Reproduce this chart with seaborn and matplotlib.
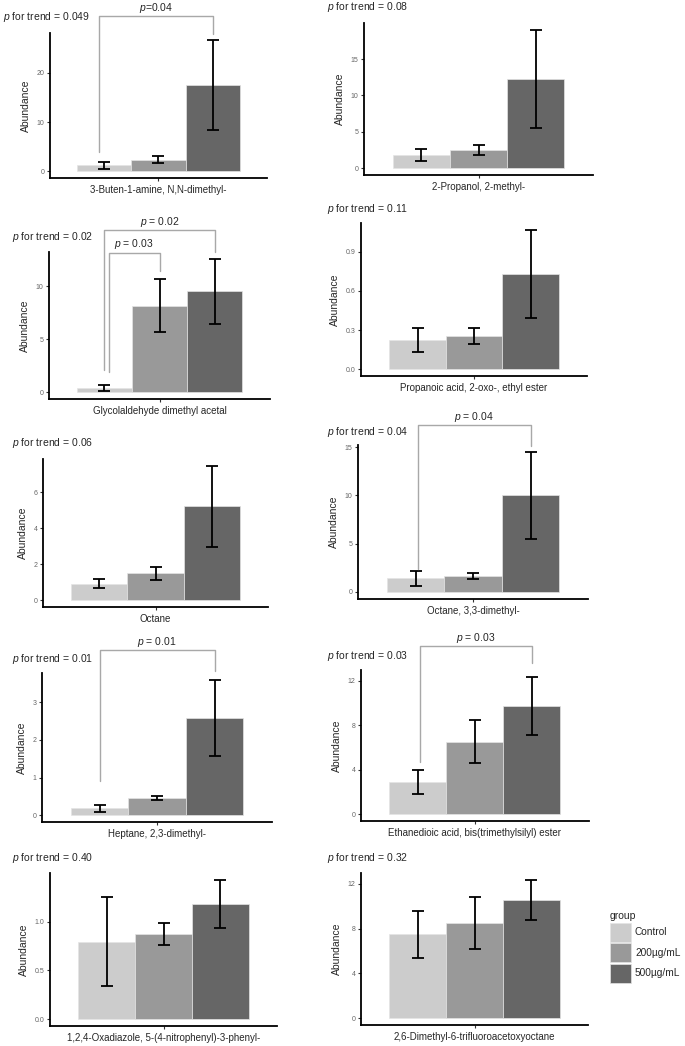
import numpy as np
import pandas as pd
import matplotlib
matplotlib.use("Agg")
import matplotlib.pyplot as plt
import seaborn as sns

# ---------------- data ----------------
groups = ["Control", "200µg/mL", "500µg/mL"]
compounds = [
    "3-Buten-1-amine, N,N-dimethyl-",
    "2-Propanol, 2-methyl-",
    "Glycolaldehyde dimethyl acetal",
    "Propanoic acid, 2-oxo-, ethyl ester",
    "Octane",
    "Octane, 3,3-dimethyl-",
    "Heptane, 2,3-dimethyl-",
    "Ethanedioic acid, bis(trimethylsilyl) ester",
    "1,2,4-Oxadiazole, 5-(4-nitrophenyl)-3-phenyl-",
    "2,6-Dimethyl-6-trifluoroacetoxyoctane",
]
ctrl_mean = [1.2, 1.84, 0.38, 0.225, 0.92, 1.40, 0.186, 2.88, 0.795, 7.49]
ctrl_se = [0.68, 0.85, 0.27, 0.093, 0.26, 0.785, 0.097, 1.05, 0.459, 2.09]
mid_mean = [2.4, 2.49, 8.19, 0.251, 1.5, 1.67, 0.46, 6.51, 0.87, 8.51]
mid_se = [0.72, 0.645, 2.53, 0.062, 0.355, 0.31, 0.055, 1.935, 0.115, 2.3]
high_mean = [17.6, 12.3, 9.53, 0.729, 5.23, 10.0, 2.58, 9.75, 1.178, 10.54]
high_se = [9.15, 6.73, 3.08, 0.34, 2.25, 4.5, 1.015, 2.6, 0.248, 1.8]
trend_p = ["0.049", "0.08", "0.02", "0.11", "0.06", "0.04", "0.01", "0.03", "0.40", "0.32"]
tick_step = [10, 5, 5, 0.3, 2, 5, 1, 4, 0.5, 4]
# pairwise comparisons: (group i, group j, label, bracket top, left leg end, right leg end, left leg shift)
brackets = {
    0: [(0, 2, "$p$=0.04", 31.6, 3.9, 27.9, -0.028)],
    2: [(0, 1, "$p$ = 0.03", 13.19, 1.94, 11.47, 0.024),
        (0, 2, "$p$ = 0.02", 15.3, 2.1, 13.2, 0.0)],
    5: [(0, 2, "$p$ = 0.04", 17.27, 2.34, 15.07, 0.013)],
    6: [(0, 2, "$p$ = 0.01", 4.39, 0.91, 3.83, 0.0)],
    7: [(0, 2, "$p$ = 0.03", 15.15, 4.71, 13.62, 0.01)],
}

# ---------------- layout / style ----------------
W, H = 685, 1046
panel_px = [  # left, right, top, bottom (pixels)
    (50, 267, 33, 178), (364, 593, 23, 175),
    (49, 270, 252, 399), (361, 587, 223, 376),
    (43, 268, 459, 607), (358, 588, 445, 599),
    (42, 272, 673, 822), (361, 589, 670, 821),
    (50, 277, 873, 1026), (361, 588, 873, 1025),
]
trend_px = [(3, 17), (327, 7), (12, 237), (327, 209), (12, 443),
            (327, 432), (12, 659), (327, 656), (12, 858), (327, 858)]
palette = {"Control": "#cccccc", "200µg/mL": "#999999", "500µg/mL": "#666666"}

sns.set_style("white")
plt.rcParams["font.family"] = ["Liberation Sans", "DejaVu Sans"]
plt.rcParams["mathtext.fontset"] = "custom"
plt.rcParams["mathtext.rm"] = "Liberation Sans"
plt.rcParams["mathtext.it"] = "Liberation Sans:italic"

fig = plt.figure(figsize=(W / 100, H / 100), dpi=100)

last_ax = None
for k, name in enumerate(compounds):
    l, r, t, b = panel_px[k]
    ax = fig.add_axes([l / W, 1 - b / H, (r - l) / W, (b - t) / H])
    means = [ctrl_mean[k], mid_mean[k], high_mean[k]]
    ses = [ctrl_se[k], mid_se[k], high_se[k]]
    df = pd.DataFrame({"compound": [name] * 3, "group": groups, "abundance": means})
    sns.barplot(data=df, x="compound", y="abundance", hue="group", hue_order=groups,
                palette=palette, width=0.9, errorbar=None, edgecolor="#e4e4e4",
                linewidth=0.5, ax=ax, legend=(k == 9))
    ax.set_xlim(-0.6, 0.6)
    centers = [c[0].get_x() + c[0].get_width() / 2 for c in ax.containers]
    ax.errorbar(centers, means, yerr=ses, fmt="none", ecolor="black",
                elinewidth=1.3, capsize=4.5, capthick=1.3, zorder=5)
    ymax = max(m + s for m, s in zip(means, ses))
    ax.set_ylim(-0.05 * ymax, 1.05 * ymax)
    step = tick_step[k]
    ticks = np.arange(0, ymax * 1.05 + 1e-9, step)
    ax.set_yticks(ticks)
    ax.set_yticklabels([f"{v:.1f}" if step < 1 else f"{v:g}" for v in ticks])
    ax.tick_params(axis="y", labelsize=5, labelcolor="#666666", length=2.5,
                   width=0.8, color="#333333", pad=1.5, left=True)
    ax.tick_params(axis="x", labelsize=7, length=2.5, width=0.8,
                   color="#333333", pad=2.5, bottom=True)
    ax.set_xlabel("")
    ax.set_ylabel("Abundance", fontsize=7.5, labelpad=4)
    sns.despine(ax=ax)
    for sp in ("left", "bottom"):
        ax.spines[sp].set_linewidth(1.3)
        ax.spines[sp].set_color("black")

    for (i, j, lab, ytop, yl, yr, dx) in brackets.get(k, []):
        xl = centers[i] + dx
        xr = centers[j]
        ax.plot([xl, xl, xr, xr], [yl, ytop, ytop, yr], color="#a8a8a8", lw=1.0,
                clip_on=False, zorder=6)
        ax.annotate(lab, xy=((xl + xr) / 2, ytop), xytext=(0, 0.8),
                    textcoords="offset points", ha="center", va="bottom",
                    fontsize=7.5, annotation_clip=False)

    tx, ty = trend_px[k]
    fig.text(tx / W, 1 - ty / H, f"$p$ for trend = {trend_p[k]}", fontsize=7.5,
             ha="left", va="center")
    last_ax = ax

leg = last_ax.get_legend()
handles = leg.legend_handles
labels = [t.get_text() for t in leg.texts]
leg.remove()
fig.legend(handles, labels, title="group", loc="upper left",
           bbox_to_anchor=(602 / W, 1 - 903 / H), frameon=False, fontsize=7.3,
           title_fontsize=7.5, handlelength=2.1, handleheight=2.5,
           labelspacing=0.15, handletextpad=0.35, borderpad=0.3,
           alignment="left")

fig.savefig("out.png", dpi=100)
